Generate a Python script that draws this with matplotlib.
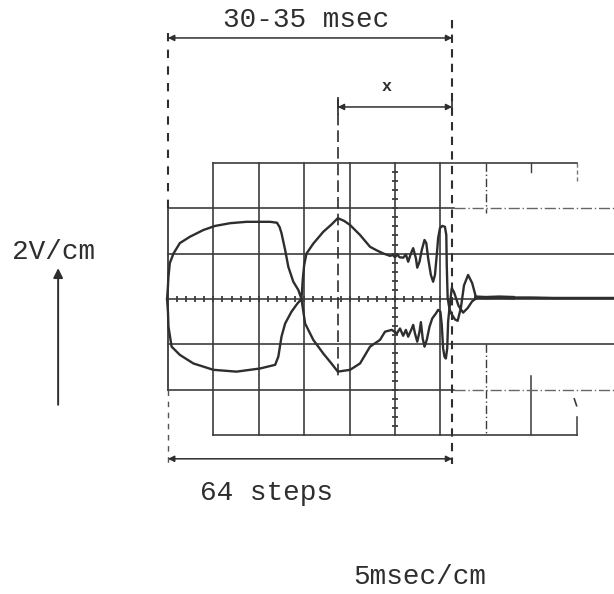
import numpy as np
import matplotlib
matplotlib.use('Agg')
import matplotlib.pyplot as plt

# Oscilograma: 2V/cm vertical, 5msec/cm horizontal (unidades = divisiones)

# traza superior
sup_x = [-0.02, 0.0, 0.01, 0.04, 0.12, 0.26, 0.48, 0.78, 1.04, 1.37, 1.73, 2.25, 2.40, 2.46, 2.50,
         2.58, 2.65, 2.76, 2.87, 2.94,
         2.97, 3.00, 3.05, 3.20, 3.42, 3.60, 3.74, 3.88, 4.01, 4.23, 4.45, 4.60, 4.75, 4.89,
         4.95, 5.00, 5.05, 5.10, 5.18, 5.24, 5.29, 5.35, 5.40, 5.46, 5.49, 5.54, 5.59, 5.65,
         5.69, 5.73, 5.79, 5.84, 5.88, 5.92, 5.95, 5.99, 6.04, 6.10, 6.13, 6.14, 6.16,
         6.20, 6.24, 6.32, 6.38, 6.45, 6.52, 6.61, 6.70, 6.78]
sup_y = [0.0, 0.30, 0.49, 0.79, 1.00, 1.23, 1.37, 1.52, 1.61, 1.67, 1.70, 1.70, 1.68, 1.58, 1.45,
         1.08, 0.71, 0.38, 0.20, 0.0,
         0.45, 0.75, 1.00, 1.22, 1.48, 1.64, 1.78, 1.72, 1.63, 1.41, 1.15, 1.07, 1.00, 0.95,
         0.97, 0.92, 0.98, 0.92, 0.91, 0.98, 0.82, 1.00, 1.12, 0.90, 0.69, 0.82, 1.08, 1.30,
         1.23, 0.90, 0.53, 0.38, 0.53, 0.97, 1.34, 1.56, 1.61, 1.59, 1.41, 0.75, 0.02,
         -0.22, -0.32, -0.45, -0.48, -0.20, 0.30, 0.53, 0.35, 0.05]

# traza inferior
inf_x = [-0.02, 0.0, 0.01, 0.08, 0.26, 0.56, 1.00, 1.51, 2.03, 2.36, 2.43, 2.50, 2.58, 2.72, 2.85, 2.94,
         3.02, 3.20, 3.42, 3.60, 3.74, 4.01, 4.23, 4.45, 4.67, 4.78, 4.93, 5.04, 5.11, 5.18, 5.24,
         5.29, 5.37, 5.40, 5.44, 5.49, 5.54, 5.57, 5.61, 5.65, 5.70, 5.76, 5.82, 5.90, 5.95, 6.00,
         6.03, 6.06, 6.09, 6.12, 6.15, 6.17, 6.20, 6.25, 6.30, 6.40, 6.50, 6.60, 6.70, 6.80]
inf_y = [0.0, -0.30, -0.61, -1.05, -1.23, -1.42, -1.56, -1.60, -1.53, -1.45, -1.27, -0.83, -0.54, -0.28, -0.10, 0.0,
         -0.54, -0.90, -1.20, -1.42, -1.60, -1.56, -1.42, -1.05, -0.90, -0.72, -0.68, -0.76, -0.65, -0.81, -0.68,
         -0.83, -0.65, -0.57, -0.76, -0.94, -0.72, -0.51, -0.87, -1.05, -0.90, -0.61, -0.43, -0.32, -0.24, -0.28,
         -0.57, -1.09, -1.27, -1.31, -1.09, -0.50, -0.20, 0.24, 0.15, -0.15, -0.30, -0.20, -0.05, 0.02]

# linea residual
cola_x = [6.78, 7.0, 7.3, 7.6]
cola_y = [0.04, 0.03, 0.04, 0.03]
cola2_x = [7.6, 8.0, 8.5, 9.0, 9.9]
cola2_y = [0.03, 0.03, 0.02, 0.02, 0.02]

# cotas (x en divisiones)
x_inicio = 0.0
x_fin = 6.26
x_medio = 3.74

tinta = '#2e2e2e'
rejilla = '#3c3c3c'
fuente = 'Liberation Mono'

fig = plt.figure(figsize=(6.14, 5.94), dpi=100)
ax = fig.add_axes([0, 0, 1, 1])
esc = 45.4
ax.set_xlim(-168 / esc, (614 - 168) / esc)
ax.set_ylim((299 - 594) / esc, 299 / esc)
ax.axis('off')

# rejilla de la pantalla
for gx in range(1, 7):
    ax.plot([gx, gx], [-3, 3], color=rejilla, lw=1.2)
ax.plot([7, 7], [3, 1.9], color=rejilla, lw=1.0, ls=(0, (6, 2, 1, 2)))
ax.plot([7, 7], [-1.0, -3], color=rejilla, lw=1.0, ls=(0, (6, 2, 1, 2)))
ax.plot([8, 8], [3, 2.8], color=rejilla, lw=1.0)
ax.plot([8, 8], [-1.7, -3], color=rejilla, lw=1.1)
ax.plot([9, 9], [3, 2.6], color='#777777', lw=1.0, ls=(0, (3, 2)))
ax.plot([9, 9], [-2.6, -3], color=rejilla, lw=1.1)
ax.plot([8.95, 9.0], [-2.2, -2.35], color=rejilla, lw=1.2)
ax.plot([1, 9], [3, 3], color=rejilla, lw=1.2)
ax.plot([1, 9], [-3, -3], color=rejilla, lw=1.2)
for gy in [-1, 0, 1]:
    ax.plot([0, 9.9], [gy, gy], color=rejilla, lw=1.2)
for gy in [-2, 2]:
    ax.plot([0, 6.3], [gy, gy], color=rejilla, lw=1.2)
    ax.plot([6.3, 9.9], [gy, gy], color='#666666', lw=1.0, ls=(0, (8, 2, 1, 2)))
ax.plot([0, 0], [-2, 2], color=rejilla, lw=1.3)

# marcas de subdivision en los ejes centrales
mx = np.arange(0.2, 6.2, 0.2)
ax.plot(mx, np.zeros_like(mx), ls='none', marker='|', ms=5, mew=1.3, color=rejilla)
my = np.arange(-2.8, 3.0, 0.2)
ax.plot(np.full_like(my, 5.0), my, ls='none', marker='_', ms=5, mew=1.3, color=rejilla)

# trazas
ax.plot(sup_x, sup_y, color=tinta, lw=1.7, solid_joinstyle='round')
ax.plot(inf_x, inf_y, color=tinta, lw=1.7, solid_joinstyle='round')
ax.plot(cola_x, cola_y, color=tinta, lw=2.6)
ax.plot(cola2_x, cola2_y, color=tinta, lw=1.9)

# lineas de cota discontinuas
ax.plot([x_inicio, x_inicio], [5.86, 2.0], color=tinta, lw=1.5, ls=(0, (4, 4)))
ax.plot([x_inicio, x_inicio], [-2.0, -3.66], color='#555555', lw=1.0, ls=(0, (4, 4)))
ax.plot([x_fin, x_fin], [6.15, -3.63], color=tinta, lw=1.5, ls=(0, (4, 3)))
ax.plot([x_medio, x_medio], [4.45, -1.75], color=tinta, lw=1.2, ls=(0, (7, 3)))

# flechas de cota
flecha = dict(arrowstyle='<|-|>', lw=1.1, color=tinta, mutation_scale=9,
              shrinkA=0, shrinkB=0)
ax.annotate('', xy=(x_fin, 5.75), xytext=(x_inicio, 5.75), arrowprops=flecha)
ax.annotate('', xy=(x_fin, 4.23), xytext=(x_medio, 4.23), arrowprops=flecha)
ax.annotate('', xy=(x_fin, -3.52), xytext=(x_inicio, -3.52), arrowprops=flecha)
ax.plot([x_medio, x_medio], [4.08, 4.38], color=tinta, lw=1.2)
ax.plot([x_fin, x_fin], [4.08, 4.38], color=tinta, lw=1.2)

# flecha de escala vertical
ax.annotate('', xy=(-2.42, 0.68), xytext=(-2.42, -2.33),
            arrowprops=dict(arrowstyle='-|>', lw=1.4, color=tinta, mutation_scale=14,
                            shrinkA=0, shrinkB=0))

# textos
ax.text(3.04, 6.15, '30-35 msec', family=fuente, fontsize=20, color=tinta,
        ha='center', va='center')
ax.text(4.82, 4.67, 'x', family=fuente, fontsize=12, color=tinta,
        ha='center', va='center', fontweight='bold')
ax.text(-3.44, 1.04, '2V/cm', family=fuente, fontsize=20, color=tinta,
        ha='left', va='center')
ax.text(0.70, -4.27, '64 steps', family=fuente, fontsize=20, color=tinta,
        ha='left', va='center')
ax.text(4.07, -6.12, '5msec/cm', family=fuente, fontsize=20, color=tinta,
        ha='left', va='center')

fig.savefig('out.png', dpi=100, facecolor='white')
